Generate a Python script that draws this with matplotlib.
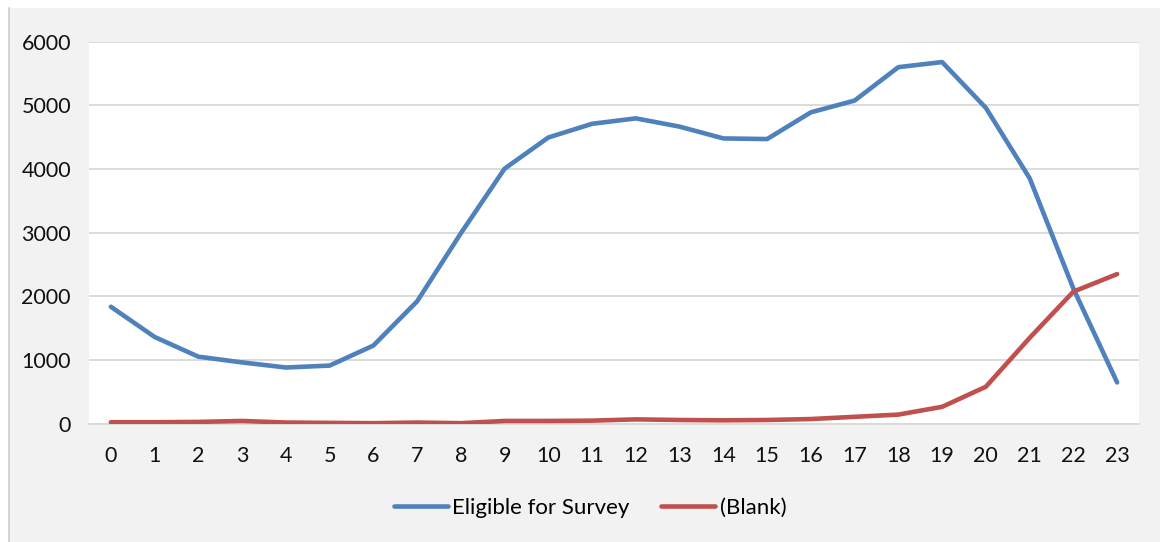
import matplotlib.pyplot as plt
from matplotlib.patches import Rectangle
from matplotlib.lines import Line2D

hours = list(range(24))
eligible = [1835, 1360, 1050, 960, 880, 910, 1225, 1920, 2990, 4005, 4495, 4710, 4795,
            4665, 4480, 4470, 4890, 5075, 5600, 5680, 4960, 3855, 2120, 645]
blank = [20, 20, 25, 40, 15, 10, 5, 15, 5, 40, 40, 45, 65, 55, 50, 55, 70, 105, 140,
         262, 578, 1345, 2072, 2348]
yticks = [0, 1000, 2000, 3000, 4000, 5000, 6000]

plt.rcParams["font.family"] = ["Lato", "DejaVu Sans"]

W, H = 1160, 542
fig = plt.figure(figsize=(W / 100, H / 100), dpi=100, facecolor="white")

# chart-area background (white margin at top and left like the pasted screenshot)
fig.patches.append(Rectangle((8 / W, 0), 1 - 8 / W, 1 - 8 / H, transform=fig.transFigure,
                             facecolor="#f2f2f2", edgecolor="none", zorder=-2))
fig.lines.append(Line2D([8.5 / W, 8.5 / W], [0, 1 - 8 / H], transform=fig.transFigure,
                        color="#d0d0d0", linewidth=1.2, zorder=-1))

ax = fig.add_axes([89 / W, 118.5 / H, 1050 / W, 381.8 / H])
ax.set_facecolor("white")

ax.plot(hours, eligible, color="#4f81bd", linewidth=3.3, solid_capstyle="round",
        solid_joinstyle="round", label="Eligible for Survey", zorder=3)
ax.plot(hours, blank, color="#c0504d", linewidth=3.3, solid_capstyle="round",
        solid_joinstyle="round", label="(Blank)", zorder=3)

ax.set_xlim(-0.5, 23.5)
ax.set_ylim(0, 6000)
ax.set_xticks(hours)
ax.set_xticklabels([str(h) for h in hours])
ax.set_yticks(yticks)
ax.set_yticklabels([str(v) for v in yticks])
ax.grid(axis="y", color="#d9d9d9", linewidth=1.3, zorder=0)
ax.set_axisbelow(True)
for s in ["top", "right", "left"]:
    ax.spines[s].set_visible(False)
ax.spines["bottom"].set_color("#d9d9d9")
ax.spines["bottom"].set_linewidth(1.3)
ax.tick_params(axis="both", length=0, labelsize=15.5, colors="#111111")
ax.tick_params(axis="y", pad=13)
ax.tick_params(axis="x", pad=16)

fig.legend(loc="center", bbox_to_anchor=(590 / W, 1 - 508 / H), ncol=2, frameon=False,
           fontsize=16, handlelength=2.45, handletextpad=0.2, columnspacing=1.4)

fig.savefig("out.png", dpi=100, facecolor=fig.get_facecolor())
